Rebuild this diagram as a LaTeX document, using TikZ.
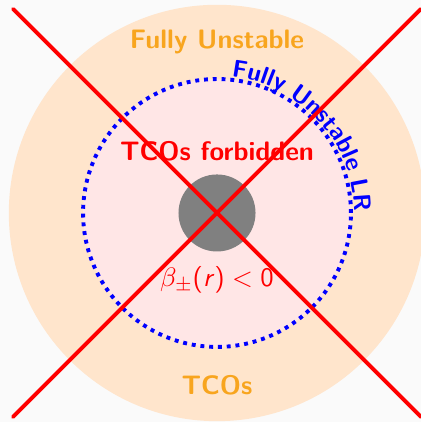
\documentclass[tikz,border=0pt]{standalone}
\usetikzlibrary{decorations.text}

\definecolor{tcoorange}{RGB}{248,165,30}
\definecolor{outerfill}{RGB}{255,229,204}
\definecolor{innerfill}{RGB}{255,230,230}
\definecolor{pagebg}{RGB}{250,250,250}

\newcommand{\slidefont}{\fontsize{10.95}{13.6}\selectfont\sffamily}

\begin{document}
\begin{tikzpicture}[thick, font=\slidefont,
    region/.style={font=\slidefont\bfseries},
    cross/.style={red, ultra thick, line cap=round}]

  \def\Ro{3.0}    % outer region
  \def\Rlr{1.93}  % LR boundary
  \def\Rc{0.555}  % central body
  \def\e{2.94}    % end of the cross

  % background and bounding box
  \fill[pagebg] (-3.127,-3.012) rectangle (2.939,3.069);
  \useasboundingbox (-3.127,-3.012) rectangle (2.939,3.069);

  % regions
  \fill[outerfill] (0,0) circle (\Ro);
  \fill[innerfill] (0,0) circle (\Rlr);
  \draw[blue, ultra thick, dotted] (0,0) circle (\Rlr);
  \fill[gray] (0,0) circle (\Rc);

  % labels
  \node[region, text=tcoorange] (unstable) at (0,2.46)   {Fully Unstable};
  \node[region, text=red]       (forbid)   at (0,0.89)   {TCOs forbidden};
  \node[text=red]               (beta)     at (0,-0.965)
    {$\beta_{\pm}\mbox{\slidefont(\itshape r\/\upshape)} < \mbox{\slidefont 0}$};
  \node[region, text=tcoorange] (tcos)     at (0,-2.48)  {TCOs};

  % curved label along the LR boundary
  \path[decorate, decoration={text along path, text color=blue,
      text={|\fontsize{10}{12}\selectfont\sffamily\bfseries|Fully Unstable LR}}]
    (84:1.98) arc[start angle=84, end angle=-30, radius=1.98];

  % the cross
  \coordinate (nw) at (-\e,\e);
  \coordinate (se) at (\e,-\e);
  \coordinate (sw) at (-\e,-\e);
  \coordinate (ne) at (\e,\e);
  \draw[cross] (nw) -- (se);
  \draw[cross] (sw) -- (ne);

\end{tikzpicture}
\end{document}
